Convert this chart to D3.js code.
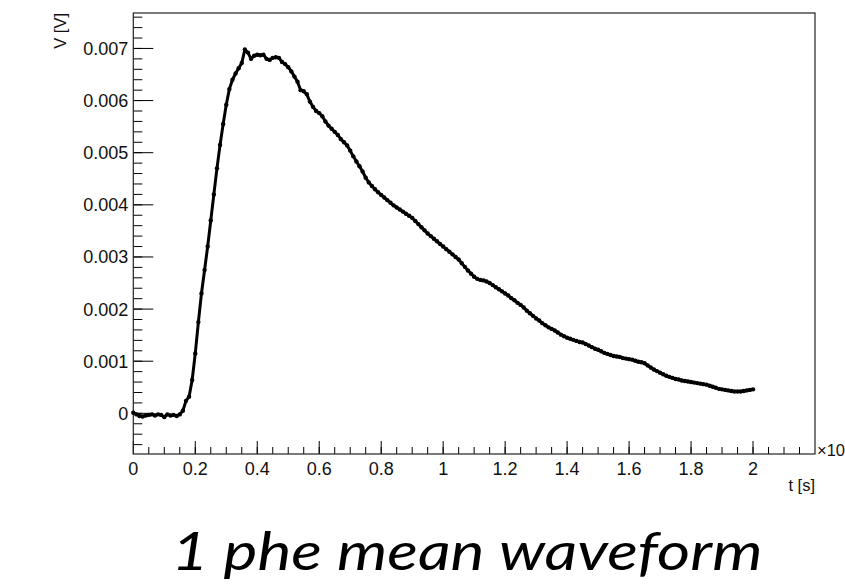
<!DOCTYPE html>
<html>
<head>
<meta charset="utf-8">
<script src="https://cdn.jsdelivr.net/npm/d3@7"></script>
<style>
  body { margin: 0; background: #fff; }
  svg { display: block; font-family: "Liberation Sans", Arial, sans-serif; }
</style>
</head>
<body>
<svg id="chart" width="845" height="585"></svg>
<script>
// Sampling of the mean waveform (time in units of 1e-6 s)
const tStep = 0.01;
const tFirst = 0;

// Mean waveform amplitude in mV, one value per sample
const voltsMilli = [
  0.01, -0.02, -0.05, -0.06, -0.04, -0.03, -0.02, -0.04, -0.02, -0.03,
  -0.07, -0.02, -0.04, -0.03, -0.05, -0.02, 0.05, 0.24, 0.32, 0.64,
  1.15, 1.75, 2.30, 2.75, 3.20, 3.70, 4.20, 4.70, 5.15, 5.55,
  5.92, 6.22, 6.40, 6.52, 6.62, 6.72, 6.98, 6.92, 6.80, 6.86,
  6.88, 6.87, 6.88, 6.80, 6.78, 6.82, 6.83, 6.82, 6.74, 6.70,
  6.64, 6.56, 6.46, 6.36, 6.20, 6.18, 6.12, 5.98, 5.88, 5.80,
  5.76, 5.70, 5.60, 5.52, 5.46, 5.40, 5.34, 5.26, 5.20, 5.14,
  5.04, 4.93, 4.83, 4.74, 4.64, 4.52, 4.43, 4.36, 4.30, 4.24,
  4.19, 4.14, 4.09, 4.04, 3.99, 3.95, 3.91, 3.87, 3.83, 3.79,
  3.75, 3.69, 3.63, 3.57, 3.51, 3.45, 3.40, 3.35, 3.30, 3.25,
  3.20, 3.15, 3.10, 3.05, 3.00, 2.95, 2.88, 2.81, 2.74, 2.68,
  2.62, 2.58, 2.56, 2.55, 2.53, 2.50, 2.46, 2.42, 2.38, 2.34,
  2.30, 2.26, 2.21, 2.17, 2.12, 2.08, 2.03, 1.97, 1.92, 1.87,
  1.82, 1.78, 1.73, 1.69, 1.65, 1.62, 1.59, 1.55, 1.51, 1.48,
  1.45, 1.43, 1.41, 1.39, 1.37, 1.36, 1.33, 1.30, 1.27, 1.24,
  1.22, 1.19, 1.16, 1.14, 1.12, 1.10, 1.09, 1.08, 1.06, 1.05,
  1.04, 1.03, 1.01, 0.99, 0.98, 0.96, 0.92, 0.88, 0.84, 0.81,
  0.78, 0.75, 0.72, 0.70, 0.68, 0.66, 0.65, 0.63, 0.62, 0.61,
  0.60, 0.59, 0.58, 0.57, 0.56, 0.55, 0.53, 0.51, 0.49, 0.47,
  0.46, 0.45, 0.44, 0.43, 0.42, 0.42, 0.42, 0.43, 0.44, 0.45,
  0.46
];

// Axis ranges and tick values
const xDomain = [0, 2.2];
const yDomain = [-0.00078, 0.00768];
const xMajorTicks = [0, 0.2, 0.4, 0.6, 0.8, 1, 1.2, 1.4, 1.6, 1.8, 2];
const xTickLabels = ["0", "0.2", "0.4", "0.6", "0.8", "1", "1.2", "1.4", "1.6", "1.8", "2"];
const yMajorTicks = [0, 0.001, 0.002, 0.003, 0.004, 0.005, 0.006, 0.007];
const yTickLabels = ["0", "0.001", "0.002", "0.003", "0.004", "0.005", "0.006", "0.007"];

const svg = d3.select("#chart");
const frame = { left: 133.3, right: 815, top: 13, bottom: 454 };
const fw = frame.right - frame.left;
const fh = frame.bottom - frame.top;

const x = d3.scaleLinear().domain(xDomain).range([frame.left, frame.right]);
const y = d3.scaleLinear().domain(yDomain).range([frame.bottom, frame.top]);

const data = voltsMilli.map((v, i) => ({ t: tFirst + i * tStep, v: v / 1000 }));

// minor ticks
const xMinor = d3.range(0, 2.2001, 0.05).filter(t => t > 0.001 && t < 2.199);
const yMinor = d3.range(-0.0006, 0.00761, 0.0002);

// bottom axis
const xAxis = svg.append("g").attr("transform", `translate(0,${frame.bottom})`);
xAxis.call(d3.axisBottom(x).tickValues(xMajorTicks).tickSize(0).tickFormat(""));
xAxis.select(".domain").remove();
xAxis.selectAll(".minor").data(xMinor).enter().append("line")
    .attr("x1", d => x(d)).attr("x2", d => x(d))
    .attr("y1", 0).attr("y2", -7)
    .attr("stroke", "#000").attr("stroke-width", 1);
xAxis.selectAll(".major").data(xMajorTicks).enter().append("line")
    .attr("x1", d => x(d)).attr("x2", d => x(d))
    .attr("y1", 0).attr("y2", -13)
    .attr("stroke", "#000").attr("stroke-width", 1);
xAxis.selectAll(".lbl").data(xMajorTicks).enter().append("text")
    .attr("x", d => x(d)).attr("y", 21)
    .attr("text-anchor", "middle")
    .attr("font-size", 18)
    .attr("fill", "#111")
    .text((d, i) => xTickLabels[i]);

// left axis
const yAxis = svg.append("g").attr("transform", `translate(${frame.left},0)`);
yAxis.call(d3.axisLeft(y).tickValues(yMajorTicks).tickSize(0).tickFormat(""));
yAxis.select(".domain").remove();
yAxis.selectAll(".minor").data(yMinor).enter().append("line")
    .attr("y1", d => y(d)).attr("y2", d => y(d))
    .attr("x1", 0).attr("x2", 9)
    .attr("stroke", "#000").attr("stroke-width", 1);
yAxis.selectAll(".major").data(yMajorTicks).enter().append("line")
    .attr("y1", d => y(d)).attr("y2", d => y(d))
    .attr("x1", 0).attr("x2", 20)
    .attr("stroke", "#000").attr("stroke-width", 1);
yAxis.selectAll(".lbl").data(yMajorTicks).enter().append("text")
    .attr("x", -5).attr("y", d => y(d))
    .attr("dy", "0.36em")
    .attr("text-anchor", "end")
    .attr("font-size", 18)
    .attr("fill", "#111")
    .text((d, i) => yTickLabels[i]);

// frame box
svg.append("rect")
    .attr("x", frame.left).attr("y", frame.top)
    .attr("width", fw).attr("height", fh)
    .attr("fill", "none").attr("stroke", "#222").attr("stroke-width", 1.2);

// waveform
const line = d3.line().x(d => x(d.t)).y(d => y(d.v));
svg.append("path")
    .datum(data)
    .attr("d", line)
    .attr("fill", "none")
    .attr("stroke", "#000")
    .attr("stroke-width", 3)
    .attr("stroke-linejoin", "round");
svg.append("g").selectAll("circle")
    .data(data).enter().append("circle")
    .attr("cx", d => x(d.t)).attr("cy", d => y(d.v))
    .attr("r", 2.2).attr("fill", "#000");

// axis titles
svg.append("text")
    .attr("transform", `translate(66,${frame.top}) rotate(-90)`)
    .attr("text-anchor", "end")
    .attr("font-size", 16.5)
    .attr("fill", "#111")
    .text("V [V]");

svg.append("text")
    .attr("x", frame.right).attr("y", 491)
    .attr("text-anchor", "end")
    .attr("font-size", 16.5)
    .attr("fill", "#111")
    .text("t [s]");

// axis multiplier, cut by the right edge as in the reference
const mult = svg.append("text")
    .attr("x", frame.right + 2).attr("y", 456)
    .attr("font-size", 16.5)
    .attr("fill", "#111");
mult.append("tspan").text("\u00d710");
mult.append("tspan").attr("dy", -7).attr("font-size", 12).text("\u22126");

// caption
svg.append("text")
    .attr("x", 467).attr("y", 570)
    .attr("text-anchor", "middle")
    .attr("font-family", "Lato, 'Open Sans', sans-serif")
    .attr("font-style", "italic")
    .attr("font-size", 52)
    .attr("textLength", 591)
    .attr("lengthAdjust", "spacingAndGlyphs")
    .attr("fill", "#000")
    .text("1 phe mean waveform");
</script>
</body>
</html>
